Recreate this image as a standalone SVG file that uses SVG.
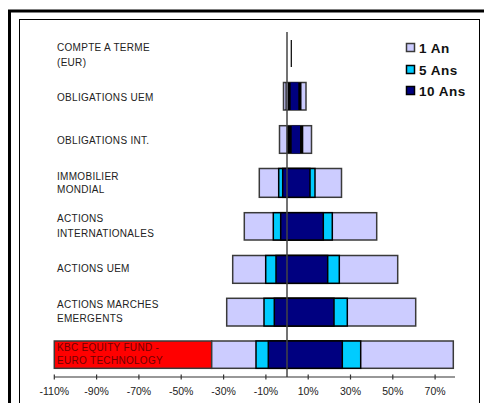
<svg xmlns="http://www.w3.org/2000/svg" width="484" height="403" viewBox="0 0 484 403">
<style>
.lbl{font-family:"Liberation Sans",Arial,sans-serif;font-size:10px;fill:#222;letter-spacing:0.3px}
.tick{font-family:"Liberation Sans",Arial,sans-serif;font-size:10.5px;fill:#222;text-anchor:middle}
.leg{font-family:"Liberation Sans",Arial,sans-serif;font-size:13.5px;font-weight:bold;fill:#111;letter-spacing:0.5px}
.l1{fill:#CCCCFF;stroke:#3a3a3a;stroke-width:1.5}
.l5{fill:#00CCFF;stroke:#000;stroke-width:1.5}
.l10{fill:#000080;stroke:#000;stroke-width:1.5}
.blk{fill:#000}
</style>
<rect x="0" y="0" width="484" height="403" fill="#fff"/>
<rect x="9.5" y="11" width="480" height="400" fill="none" stroke="#000" stroke-width="3"/>
<rect x="19.5" y="19.5" width="460" height="400" fill="none" stroke="#000" stroke-width="1"/>

<g id="legend">
<rect x="406.5" y="43.5" width="8" height="8" class="l1" stroke-width="1"/>
<text x="419" y="52.5" class="leg">1 An</text>
<rect x="406.5" y="65.5" width="8" height="8" class="l5" stroke-width="1"/>
<text x="419" y="74.5" class="leg">5 Ans</text>
<rect x="406.5" y="86.5" width="8" height="8" class="l10" stroke-width="1"/>
<text x="419" y="95.5" class="leg">10 Ans</text>
</g>

<g id="row-compte">
<text x="57" y="51" class="lbl">COMPTE A TERME</text>
<text x="57" y="66" class="lbl">(EUR)</text>
<line x1="291.3" y1="40" x2="291.3" y2="67" stroke="#000" stroke-width="1.2"/>
</g>

<g id="row-oblig-uem">
<text x="57" y="101" class="lbl">OBLIGATIONS UEM</text>
<rect x="283.5" y="82.5" width="22.5" height="27.5" class="l1"/>
<line x1="286" y1="82.5" x2="286" y2="110" stroke="#000" stroke-width="1"/>
<rect x="288" y="82.5" width="13.5" height="27.5" class="blk"/>
<rect x="290.7" y="82.5" width="7.6" height="27.5" fill="#000080"/>
</g>

<g id="row-oblig-int">
<text x="57" y="144" class="lbl">OBLIGATIONS INT.</text>
<rect x="279.5" y="125.7" width="32" height="27.6" class="l1"/>
<rect x="286.7" y="125.7" width="16.6" height="27.6" class="blk"/>
<rect x="291.7" y="125.7" width="8.3" height="27.6" fill="#000080"/>
</g>

<g id="row-immobilier">
<text x="57" y="180" class="lbl">IMMOBILIER</text>
<text x="57" y="193" class="lbl">MONDIAL</text>
<rect x="259.3" y="168.5" width="82.2" height="28.8" class="l1"/>
<rect x="278.7" y="168.5" width="36.3" height="28.8" class="l5"/>
<rect x="282.7" y="168.5" width="27.3" height="28.8" class="l10"/>
</g>

<g id="row-actions-int">
<text x="57" y="222" class="lbl">ACTIONS</text>
<text x="57" y="237" class="lbl">INTERNATIONALES</text>
<rect x="244.3" y="212.7" width="132.4" height="27.3" class="l1"/>
<rect x="273.3" y="212.7" width="59" height="27.3" class="l5"/>
<rect x="280.7" y="212.7" width="42.6" height="27.3" class="l10"/>
</g>

<g id="row-actions-uem">
<text x="57" y="272" class="lbl">ACTIONS UEM</text>
<rect x="232.7" y="255.5" width="165" height="27.8" class="l1"/>
<rect x="265.7" y="255.5" width="73.6" height="27.8" class="l5"/>
<rect x="276" y="255.5" width="51.7" height="27.8" class="l10"/>
</g>

<g id="row-marches-emergents">
<text x="57" y="308" class="lbl">ACTIONS MARCHES</text>
<text x="57" y="322" class="lbl">EMERGENTS</text>
<rect x="226.7" y="298.3" width="189" height="27.7" class="l1"/>
<rect x="264" y="298.3" width="83.3" height="27.7" class="l5"/>
<rect x="274.3" y="298.3" width="59.7" height="27.7" class="l10"/>
</g>

<g id="row-kbc">
<rect x="54.3" y="341" width="157.4" height="27.3" fill="#FF0000" stroke="#3a3a3a" stroke-width="1.5"/>
<text x="57" y="351" class="lbl" style="fill:#700000">KBC EQUITY FUND -</text>
<text x="57" y="364" class="lbl" style="fill:#700000">EURO TECHNOLOGY</text>
<rect x="211.7" y="341" width="241.6" height="27.3" class="l1"/>
<rect x="256" y="341" width="104.7" height="27.3" class="l5"/>
<rect x="268.3" y="341" width="74" height="27.3" class="l10"/>
</g>

<g id="connectors">
<line x1="287" y1="32" x2="287" y2="377" stroke="#444" stroke-width="1.5"/>
<line x1="54.3" y1="377" x2="455" y2="377" stroke="#333" stroke-width="1.2"/>
<g stroke="#333" stroke-width="1.2">
<line x1="54.3" y1="374.5" x2="54.3" y2="379.5"/>
<line x1="96.6" y1="374.5" x2="96.6" y2="379.5"/>
<line x1="138.9" y1="374.5" x2="138.9" y2="379.5"/>
<line x1="181.2" y1="374.5" x2="181.2" y2="379.5"/>
<line x1="223.6" y1="374.5" x2="223.6" y2="379.5"/>
<line x1="265.9" y1="374.5" x2="265.9" y2="379.5"/>
<line x1="308.2" y1="374.5" x2="308.2" y2="379.5"/>
<line x1="350.5" y1="374.5" x2="350.5" y2="379.5"/>
<line x1="392.8" y1="374.5" x2="392.8" y2="379.5"/>
<line x1="435.1" y1="374.5" x2="435.1" y2="379.5"/>
</g>
</g>

<g id="axis-labels">
<text x="54.3" y="395" class="tick">-110%</text>
<text x="96.6" y="395" class="tick">-90%</text>
<text x="138.9" y="395" class="tick">-70%</text>
<text x="181.2" y="395" class="tick">-50%</text>
<text x="223.6" y="395" class="tick">-30%</text>
<text x="265.9" y="395" class="tick">-10%</text>
<text x="308.2" y="395" class="tick">10%</text>
<text x="350.5" y="395" class="tick">30%</text>
<text x="392.8" y="395" class="tick">50%</text>
<text x="435.1" y="395" class="tick">70%</text>
</g>
</svg>
